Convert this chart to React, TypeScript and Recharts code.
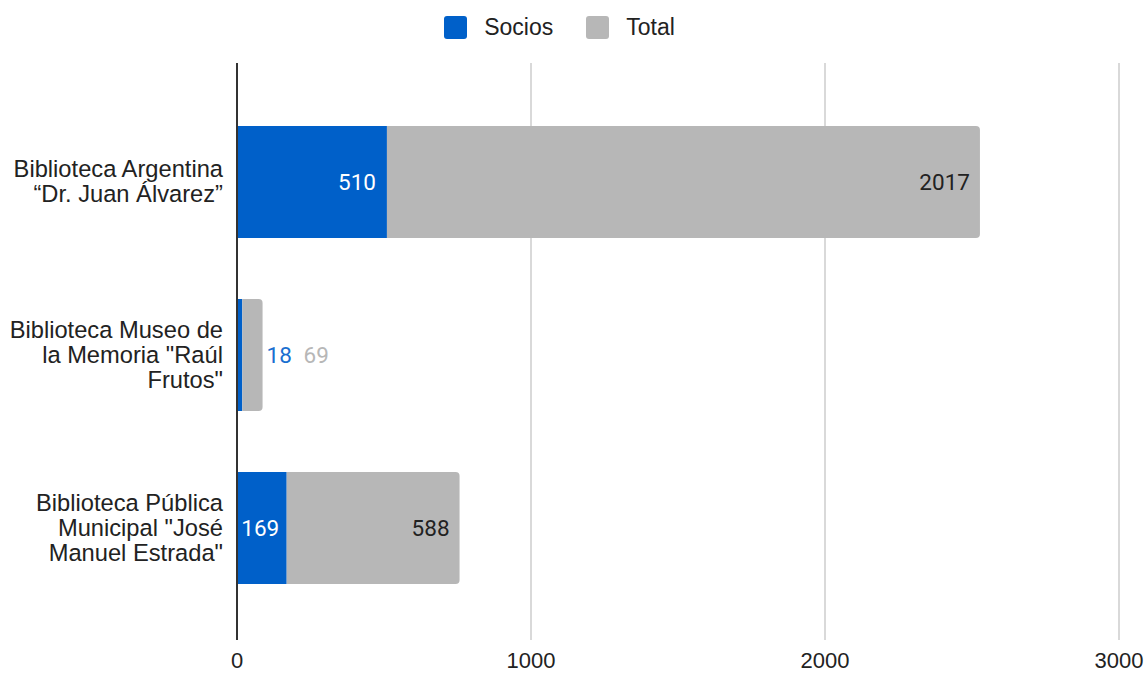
import { BarChart, Bar, XAxis, YAxis, CartesianGrid, Legend, ReferenceLine } from "recharts";

const categories = [
  "Biblioteca Argentina\n“Dr. Juan Álvarez”",
  "Biblioteca Museo de\nla Memoria \"Raúl\nFrutos\"",
  "Biblioteca Pública\nMunicipal \"José\nManuel Estrada\"",
];
const socios = [510, 18, 169];
const total = [2017, 69, 588];
const xTicks = [0, 1000, 2000, 3000];

const data = categories.map((name, i) => ({ name, socios: socios[i], total: total[i] }));

const BLUE = "#0060c9";
const GRAY = "#b7b7b7";
const ARIAL = "'Liberation Sans', Arial, sans-serif";
const ROBOTO = "Roboto, Arial, sans-serif";

const CategoryTick = (props: any) => {
  const { x, y, payload } = props;
  const lines = String(payload.value).split("\n");
  const lh = 25;
  const start = y - ((lines.length - 1) * lh) / 2;
  return (
    <text x={x} y={start} textAnchor="end" fontFamily={ARIAL} fontSize={23.7} fill="#222">
      {lines.map((l, i) => (
        <tspan key={i} x={x} y={start + i * lh} dominantBaseline="central">
          {l}
        </tspan>
      ))}
    </text>
  );
};

// rough width of a number label in Roboto 22px
const numW = (v: number) => String(v).length * 12.4;

const SociosLabel = (props: any) => {
  const { x, y, width, height, index } = props;
  const v = data[index].socios;
  if (width < 30) return null;
  const tx = Math.max(x + 5 + numW(v), x + width - 11);
  return (
    <text x={tx} y={y + height / 2} textAnchor="end" dominantBaseline="central" fontFamily={ROBOTO} fontSize={22.5} fill="#fff">
      {v}
    </text>
  );
};

const TotalLabel = (props: any) => {
  const { x, y, width, height, index } = props;
  const v = data[index].total;
  const cy = y + height / 2;
  if (width < 40) {
    return (
      <g fontFamily={ROBOTO} fontSize={22.5}>
        <text x={x + width + 4} y={cy} dominantBaseline="central" fill="#1a6fd0">
          {data[index].socios}
        </text>
        <text x={x + width + 41} y={cy} dominantBaseline="central" fill={GRAY}>
          {v}
        </text>
      </g>
    );
  }
  return (
    <text x={x + width - 10} y={cy} textAnchor="end" dominantBaseline="central" fontFamily={ROBOTO} fontSize={22.5} fill="#222">
      {v}
    </text>
  );
};

const LegendContent = () => (
  <div
    style={{
      display: "flex",
      justifyContent: "center",
      alignItems: "flex-start",
      height: 61,
      boxSizing: "border-box",
      paddingTop: 14,
      fontFamily: ARIAL,
      fontSize: 23,
      color: "#222",
    }}
  >
    {[
      { label: "Socios", color: BLUE },
      { label: "Total", color: GRAY },
    ].map((it, i) => (
      <div key={it.label} style={{ display: "flex", alignItems: "center", height: 23, marginLeft: i ? 33 : 0 }}>
        <span style={{ width: 23, height: 23, background: it.color, borderRadius: 3, display: "inline-block", marginRight: 17 }} />
        <span>{it.label}</span>
      </div>
    ))}
  </div>
);

export default function App() {
  return (
    <div style={{ position: "absolute", left: 0, top: 0, background: "#fff" }}>
      <BarChart
        width={1146}
        height={675}
        data={data}
        layout="vertical"
        barSize={112}
        margin={{ top: 2, right: 27, bottom: 0, left: 0 }}
      >
        <Legend verticalAlign="top" content={<LegendContent />} />
        <CartesianGrid horizontal={false} stroke="#cccccc" strokeWidth={1.5} />
        <XAxis
          type="number"
          domain={[0, 3000]}
          ticks={xTicks}
          axisLine={false}
          tickLine={false}
          height={35}
          tick={{ fontFamily: ARIAL, fontSize: 22, fill: "#222" }}
          tickMargin={6}
        />
        <YAxis
          type="category"
          dataKey="name"
          width={237}
          axisLine={false}
          tickLine={false}
          tick={<CategoryTick />}
          tickMargin={8}
          padding={{ top: 32, bottom: 26 }}
        />
        <ReferenceLine x={0} stroke="#333" strokeWidth={2} />
        <Bar dataKey="socios" stackId="a" fill={BLUE} isAnimationActive={false} label={<SociosLabel />} />
        <Bar dataKey="total" stackId="a" fill={GRAY} radius={[0, 4, 4, 0]} isAnimationActive={false} label={<TotalLabel />} />
      </BarChart>
    </div>
  );
}
